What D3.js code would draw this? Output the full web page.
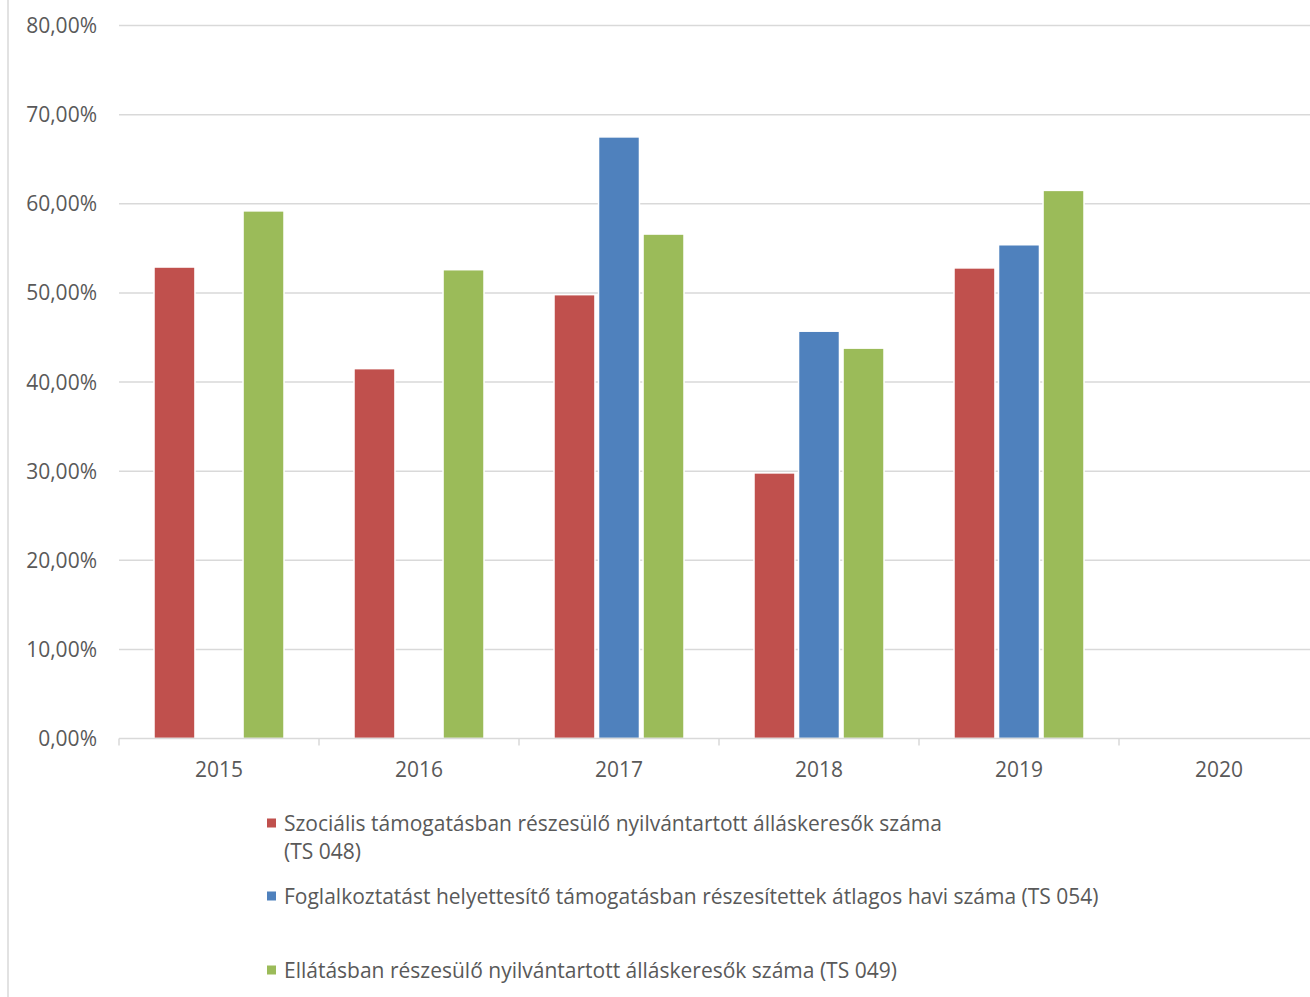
<!DOCTYPE html>
<html>
<head>
<meta charset="utf-8">
<script src="https://cdn.jsdelivr.net/npm/d3@7"></script>
<style>
  body { margin: 0; background: #fff; }
  svg { display: block; font-family: "Open Sans", sans-serif; }
</style>
</head>
<body>
<svg id="chart"></svg>
<script>
const WIDTH = 1310;
const HEIGHT = 997;

const years = ["2015", "2016", "2017", "2018", "2019", "2020"];
const seriesNames = [
  "Szociális támogatásban részesülő nyilvántartott álláskeresők száma\n(TS 048)",
  "Foglalkoztatást helyettesítő támogatásban részesítettek átlagos havi száma (TS 054)",
  "Ellátásban részesülő nyilvántartott álláskeresők száma (TS 049)"
];
const colors = ["#C0504D", "#4F81BD", "#9BBB59"];

// percent values per year, null = no data
const ts048 = [52.9, 41.5, 49.8, 29.8, 52.8, null];
const ts054 = [null, null, 67.5, 45.7, 55.4, null];
const ts049 = [59.2, 52.6, 56.6, 43.8, 61.5, null];

const yTicks = [0, 10, 20, 30, 40, 50, 60, 70, 80];

const series = [ts048, ts054, ts049];
const GRID = "#d9d9d9";
const TEXT = "#595959";

const svg = d3.select("#chart").attr("width", WIDTH).attr("height", HEIGHT);

// left border line
svg.append("line")
  .attr("x1", 8).attr("x2", 8).attr("y1", 0).attr("y2", HEIGHT)
  .attr("stroke", GRID).attr("stroke-width", 1.5);

const x = d3.scaleBand().domain(years).range([119, 1319]);
const xInner = d3.scaleBand().domain(d3.range(series.length)).range([-65, 65]).paddingInner(0.08);
const y = d3.scaleLinear().domain([0, 80]).range([738.5, 25.5]);

const fmt = v => d3.format(".2f")(v).replace(".", ",") + "%";

// gridlines
svg.append("g")
  .selectAll("line")
  .data(yTicks.filter(t => t > 0))
  .join("line")
  .attr("x1", 119).attr("x2", 1319)
  .attr("y1", d => y(d)).attr("y2", d => y(d))
  .attr("stroke", GRID).attr("stroke-width", 1.5);

// y labels
svg.append("g")
  .selectAll("text")
  .data(yTicks)
  .join("text")
  .attr("x", 97)
  .attr("y", d => y(d))
  .attr("dy", "0.36em")
  .attr("text-anchor", "end")
  .attr("font-size", 21)
  .attr("fill", TEXT)
  .text(fmt);

// bars
const barData = [];
years.forEach((yr, i) => {
  series.forEach((s, j) => {
    if (s[i] != null) barData.push({ year: yr, idx: j, value: s[i] });
  });
});

svg.append("g")
  .selectAll("rect")
  .data(barData)
  .join("rect")
  .attr("x", d => x(d.year) + x.bandwidth() / 2 + xInner(d.idx))
  .attr("width", xInner.bandwidth())
  .attr("y", d => y(d.value))
  .attr("height", d => y(0) - y(d.value))
  .attr("fill", d => colors[d.idx])
  .attr("stroke", "#fff")
  .attr("stroke-width", 1.5);

// x axis
const xAxis = svg.append("g");
xAxis.append("line")
  .attr("x1", 119).attr("x2", 1319)
  .attr("y1", y(0)).attr("y2", y(0))
  .attr("stroke", GRID).attr("stroke-width", 1.5);
xAxis.selectAll(".tick")
  .data(years.concat(["end"]))
  .join("line")
  .attr("x1", (d, i) => 119 + i * x.step())
  .attr("x2", (d, i) => 119 + i * x.step())
  .attr("y1", y(0)).attr("y2", y(0) + 7)
  .attr("stroke", GRID).attr("stroke-width", 1.5);
xAxis.selectAll("text")
  .data(years)
  .join("text")
  .attr("x", d => x(d) + x.bandwidth() / 2)
  .attr("y", 769)
  .attr("dy", "0.36em")
  .attr("text-anchor", "middle")
  .attr("font-size", 21)
  .attr("fill", TEXT)
  .text(d => d);

// legend
const legendY = [823, 896, 970];
const legend = svg.append("g")
  .selectAll("g")
  .data(seriesNames)
  .join("g")
  .attr("transform", (d, i) => `translate(267, ${legendY[i]})`);

legend.append("rect")
  .attr("x", 0).attr("y", -4.5)
  .attr("width", 9).attr("height", 9)
  .attr("fill", (d, i) => colors[i]);

legend.append("text")
  .attr("font-size", 21)
  .attr("fill", TEXT)
  .selectAll("tspan")
  .data(d => d.split("\n"))
  .join("tspan")
  .attr("x", 17)
  .attr("y", (d, i) => i * 28)
  .attr("dy", "0.36em")
  .text(d => d);
</script>
</body>
</html>
